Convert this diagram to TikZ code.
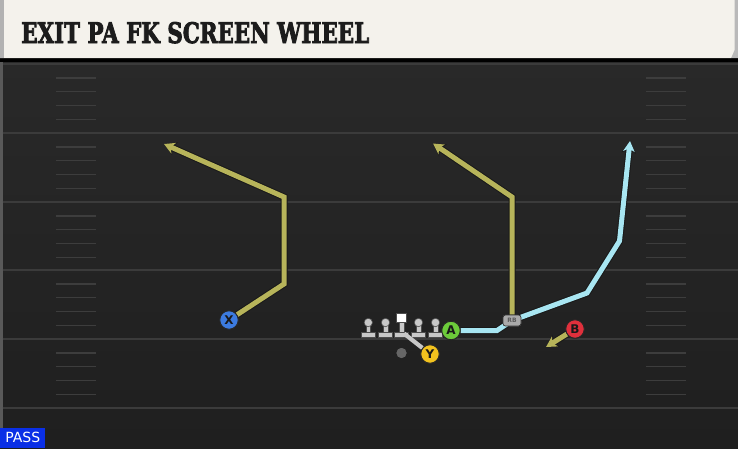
\documentclass[tikz,border=0pt]{standalone}
\usepackage{fontspec}
\setmainfont{DejaVu Sans}
\newfontfamily\titlefont[FakeBold=3.2]{DejaVu Serif Bold}
\usetikzlibrary{arrows.meta}
\definecolor{fieldtop}{HTML}{292929}
\definecolor{fieldbot}{HTML}{1F1F1F}
\definecolor{yardcol}{HTML}{3B3B3B}
\definecolor{hashcol}{HTML}{3D3D3D}
\definecolor{cream}{HTML}{F4F2EC}
\definecolor{routeyel}{HTML}{B7B45A}
\definecolor{routeblue}{HTML}{A8E6F2}
\definecolor{xblue}{HTML}{3C7BE0}
\definecolor{agreen}{HTML}{6CCB3A}
\definecolor{bred}{HTML}{E0303C}
\definecolor{yyel}{HTML}{F2C21E}
\definecolor{linegray}{HTML}{C8C8C8}
\definecolor{passblue}{HTML}{0A2FE6}
\definecolor{titletext}{HTML}{1C1C1C}
\tikzset{
  yard/.style={draw=yardcol, line width=2pt},
  hashmark/.style={draw=hashcol, line width=1.4pt},
  player/.style={circle, minimum size=18.5pt, inner sep=0pt, draw=black!85, line width=0.9pt,
     font=\bfseries\fontsize{12}{12}\selectfont, text=black!90},
  rbbox/.style={rounded corners=2.5pt, fill=linegray!85!black, draw=black!80, line width=0.7pt,
     minimum width=18pt, minimum height=11pt, inner sep=0pt, font=\bfseries\fontsize{6}{6}\selectfont, text=black!65},
  qbdot/.style={circle, fill=gray!80!black, minimum size=10pt, inner sep=0pt},
  routeout/.style={draw=black!90, line width=7pt, line join=miter},
  routeyel/.style={draw=routeyel, line width=5pt, line join=miter},
  routeblue/.style={draw=routeblue, line width=5pt, line join=miter},
  tipout/.style={-{Stealth[length=12pt,width=14pt,inset=3.5pt]}},
  tipin/.style={-{Stealth[length=10.5pt,width=11.5pt,inset=3pt]}},
  blockline/.style={draw=linegray, line width=4.2pt},
  lineman/.pic={
    \filldraw[fill=linegray, draw=black!70, line width=0.6pt] (-2.3,-7) rectangle (2.3,4);
    \filldraw[fill=linegray, draw=black!70, line width=0.6pt] (-7,3.5) rectangle (7,8.5);
    \filldraw[fill=linegray, draw=black!70, line width=0.6pt] (0,-6.5) circle[radius=4.2];
  },
  centerman/.pic={
    \filldraw[fill=linegray, draw=black!70, line width=0.6pt] (-2.3,-8) rectangle (2.3,4);
    \filldraw[fill=linegray, draw=black!70, line width=0.6pt] (-7,3.5) rectangle (7,8.5);
    \filldraw[fill=white, draw=black!70, line width=0.6pt] (-5,-16) rectangle (5,-7);
  }
}
\begin{document}
\begin{tikzpicture}[x=1pt,y=-1pt]
\useasboundingbox (0,0) rectangle (738,448);
% field
\shade[top color=fieldtop, bottom color=fieldbot] (0,58) rectangle (738,448);
\fill[black!65] (0,58) rectangle (2.5,448);
\foreach \yy in {64,133,202,270,339,408} {
  \draw[yard] (2.5,\yy) -- (738,\yy);
}
\foreach \yy in {64,133,202,270,339} {
  \foreach \k in {1,2,3,4} {
    \draw[hashmark] (56,{\yy+13.8*\k}) -- (96,{\yy+13.8*\k});
    \draw[hashmark] (646,{\yy+13.8*\k}) -- (686,{\yy+13.8*\k});
  }
}
% title bar
\fill[black] (0,57) rectangle (738,61.5);
\fill[gray!55] (733,0) -- (738,0) -- (738,58) -- (731,58) -- cycle;
\fill[cream] (0,0) -- (734.5,0) -- (734.5,50) -- (731,58) -- (0,58) -- cycle;
\fill[gray!60] (0,0) rectangle (3.5,58);
\node[anchor=base west, inner sep=0pt, text=titletext] (title) at (21,43)
  {\resizebox{348pt}{21pt}{\titlefont EXIT PA FK SCREEN WHEEL}};
% route coordinates
\coordinate (x1) at (284,284);
\coordinate (x2) at (284,197);
\coordinate (x3) at (164,144);
\coordinate (r1) at (512,197);
\coordinate (r2) at (433,143.5);
\coordinate (a1) at (497,330.5);
\coordinate (b1) at (587,293);
\coordinate (b2) at (619.5,241);
\coordinate (b3) at (630,141);
\coordinate (bend) at (546,347);
\coordinate (yblk) at (404,333.5);
% players (positions)
\node[player, fill=xblue] (X) at (229,320) {X};
\node[player, fill=agreen] (A) at (451,330.5) {A};
\node[player, fill=bred] (B) at (575,329) {B};
\node[player, fill=yyel] (Y) at (430,354) {Y};
\node[rbbox] (RB) at (512,320.5) {RB};
\node[qbdot] (QB) at (401.5,353) {};
% routes: outlines
\draw[routeout, tipout] (X) -- (x1) -- (x2) -- (x3);
\draw[routeout, tipout] (RB) -- (r1) -- (r2);
\draw[routeout, tipout] (A) -- (a1) -- (RB.center) -- (b1) -- (b2) -- (b3);
\draw[routeout, tipout] (B) -- (bend);
% routes: colours
\draw[routeyel, tipin] (X) -- (x1) -- (x2) -- (x3);
\draw[routeyel, tipin] (RB) -- (r1) -- (r2);
\draw[routeblue, tipin] (A) -- (a1) -- (RB.center) -- (b1) -- (b2) -- (b3);
\draw[routeyel, tipin] (B) -- (bend);
% line
\pic at (368.3,329) {lineman};
\pic at (385.5,329) {lineman};
\pic at (418.5,329) {lineman};
\pic at (435.5,329) {lineman};
\pic at (401.7,329) {centerman};
\draw[blockline] (Y) -- (yblk);
% redraw nodes on top
\node[player, fill=xblue] at (X) {X};
\node[player, fill=agreen] at (A) {A};
\node[player, fill=bred] at (B) {B};
\node[player, fill=yyel] at (Y) {Y};
\node[rbbox] at (RB) {RB};
\node[qbdot] at (QB) {};
% pass label
\node[fill=passblue, text=white, anchor=south west, minimum width=45pt, minimum height=20pt,
  inner sep=0pt, font=\fontsize{14}{14}\selectfont] (pass) at (0,448) {PASS};
\end{tikzpicture}
\end{document}
